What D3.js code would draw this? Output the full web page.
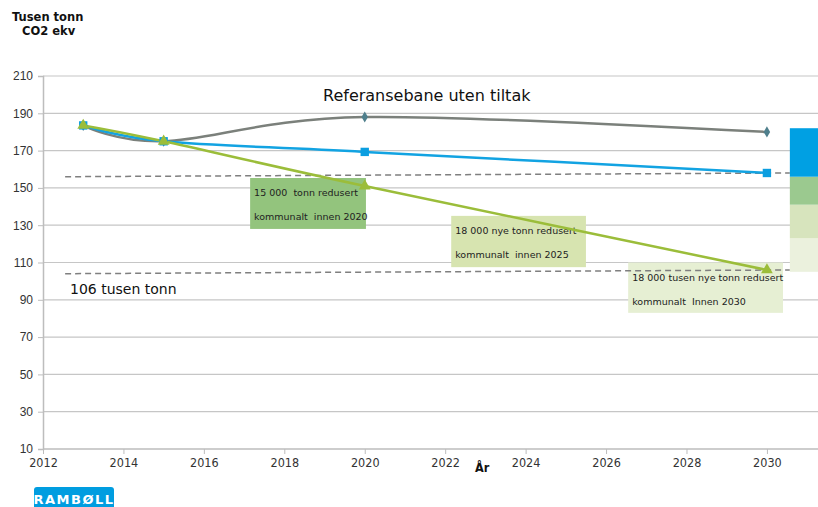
<!DOCTYPE html>
<html>
<head>
<meta charset="utf-8">
<script src="https://cdn.jsdelivr.net/npm/d3@7/dist/d3.min.js"></script>
<style>
  html, body { margin: 0; padding: 0; background: #fff; }
  svg { display: block; font-family: "DejaVu Sans", Verdana, sans-serif; }
</style>
</head>
<body>
<svg id="chart" width="818" height="507"></svg>
<script>
// Emission paths (thousand tonnes CO2 eq.)
const years = [2013, 2015, 2020, 2030];
const referanse = [183.5, 175, 188, 180];     // reference path without measures
const nasjonal = [183.5, 175, 169.3, 158];    // blue path
const kommunal = [183.5, 175, 151, 106];      // green path with municipal cuts

// Dashed target lines: [start year, end year] and [start value, end value]
const dashYears = [2012.55, 2030.57];
const dashUpper = [156, 158];
const dashLower = [104, 106];

// Stacked reduction bar at the right edge (bottom to top)
const stackSegments = [
  { label: "18 000 (2030)", value: 18 },
  { label: "18 000 (2025)", value: 18 },
  { label: "15 000 (2020)", value: 15 },
  { label: "rest", value: 26 }
];
const stackBase = 105;
const stackColors = ["#ebf1dd", "#d7e4bd", "#9bc98f", "#00a0e3"];

const yTicks = [10, 30, 50, 70, 90, 110, 130, 150, 170, 190, 210];
const xTicks = [2012, 2014, 2016, 2018, 2020, 2022, 2024, 2026, 2028, 2030];

// Reduction notes: box in data units, two text lines
const notes = [
  { x0: 2017.15, x1: 2020.03, y0: 155.3, y1: 128, fill: "#93c47d",
    lines: ["15 000  tonn redusert", "kommunalt  innen 2020"] },
  { x0: 2022.15, x1: 2025.5, y0: 135, y1: 107.5, fill: "#d7e4b0",
    lines: ["18 000 nye tonn redusert", "kommunalt  innen 2025"] },
  { x0: 2026.55, x1: 2030.4, y0: 110, y1: 83, fill: "#e6efd3",
    lines: ["18 000 tusen nye tonn redusert", "kommunalt  Innen 2030"] }
];

const svg = d3.select("#chart");
const x = d3.scaleLinear().domain([2012, 2031.27]).range([43, 818]);
const y = d3.scaleLinear().domain([10, 210]).range([449, 76]);

// Horizontal gridlines
svg.append("g").selectAll("line").data(yTicks.filter(v => v > 10)).join("line")
  .attr("x1", x(2012)).attr("x2", 818)
  .attr("y1", d => y(d)).attr("y2", d => y(d))
  .attr("stroke", "#c6c6c6").attr("stroke-width", 1.2);

// Axes
const yAxis = svg.append("g").attr("transform", `translate(${x(2012)},0)`)
  .call(d3.axisLeft(y).tickValues(yTicks).tickSize(5).tickPadding(5));
const xAxis = svg.append("g").attr("transform", `translate(0,${y(10)})`)
  .call(d3.axisBottom(x).tickValues(xTicks).tickFormat(d3.format("d")).tickSize(5).tickPadding(4));
[yAxis, xAxis].forEach(a => {
  a.select(".domain").attr("stroke", "#bdbdbd").attr("stroke-width", 1.5);
  a.selectAll(".tick line").attr("stroke", "#bdbdbd");
  a.selectAll("text").attr("fill", "#333").style("font-size", "12px");
});
xAxis.select(".domain").attr("d", `M${x(2012)},0H818`);
xAxis.selectAll("text").style("font-family", "'DejaVu Sans Condensed', 'DejaVu Sans', sans-serif")
  .style("font-size", "12.5px");

// Annotation boxes
const noteG = svg.append("g");
notes.forEach(n => {
  noteG.append("rect")
    .attr("x", x(n.x0)).attr("y", y(n.y0))
    .attr("width", x(n.x1) - x(n.x0)).attr("height", y(n.y1) - y(n.y0))
    .attr("fill", n.fill);
  n.lines.forEach((t, i) => {
    noteG.append("text")
      .attr("x", x(n.x0) + 4).attr("y", y(n.y0) + 18 + i * 24)
      .attr("font-size", 9.5).attr("fill", "#222")
      .style("white-space", "pre").text(t);
  });
});

// Dashed target lines
[dashUpper, dashLower].forEach(vals => {
  svg.append("line")
    .attr("x1", x(dashYears[0])).attr("x2", x(dashYears[1]))
    .attr("y1", y(vals[0])).attr("y2", y(vals[1]))
    .attr("stroke", "#7f7f7f").attr("stroke-width", 1.5)
    .attr("stroke-dasharray", "6,4");
});

// Stacked bar
let acc = stackBase;
const stackRows = stackSegments.map((s, i) => {
  const r = { lo: acc, hi: acc + s.value, color: stackColors[i] };
  acc += s.value;
  return r;
});
svg.append("g").selectAll("rect").data(stackRows).join("rect")
  .attr("x", x(2030.57)).attr("width", 818 - x(2030.57))
  .attr("y", d => y(d.hi)).attr("height", d => y(d.lo) - y(d.hi))
  .attr("fill", d => d.color);

// Lines
const line = d3.line().curve(d3.curveCatmullRom.alpha(0))
  .x((d, i) => x(years[i])).y(d => y(d));
const series = [
  { vals: referanse, color: "#7b807b", marker: "diamond", mcolor: "#4f7f8c" },
  { vals: nasjonal, color: "#12a3e2", marker: "square", mcolor: "#0b9ee0" },
  { vals: kommunal, color: "#9bbd3a", marker: "triangle", mcolor: "#9bbd3a" }
];
series.forEach(s => {
  svg.append("path").attr("d", line(s.vals))
    .attr("fill", "none").attr("stroke", s.color).attr("stroke-width", 2.5);
});
const symbols = { diamond: d3.symbolDiamond, square: d3.symbolSquare, triangle: d3.symbolTriangle };
const sizes = { diamond: 36, square: 70, triangle: 60 };
series.forEach(s => {
  svg.append("g").selectAll("path").data(s.vals).join("path")
    .attr("transform", (d, i) => `translate(${x(years[i])},${y(d)})`)
    .attr("d", d3.symbol().type(symbols[s.marker]).size(sizes[s.marker]))
    .attr("fill", s.mcolor);
});

// Labels
svg.append("text").attr("x", 323).attr("y", 101).attr("font-size", 16).attr("fill", "#111")
  .text("Referansebane uten tiltak");
svg.append("text").attr("x", 70).attr("y", 294).attr("font-size", 14).attr("fill", "#111")
  .text("106 tusen tonn");
svg.append("text").attr("x", 475).attr("y", 472).attr("font-size", 12.5).attr("font-weight", "bold")
  .style("font-family", "'DejaVu Sans Condensed', sans-serif").attr("fill", "#111").text("År");
svg.append("text").attr("x", 12).attr("y", 21).attr("font-size", 11.5).attr("font-weight", "bold")
  .attr("fill", "#111").text("Tusen tonn");
svg.append("text").attr("x", 22).attr("y", 35).attr("font-size", 11.5).attr("font-weight", "bold")
  .attr("fill", "#111").text("CO2 ekv");

// Logo
svg.append("rect").attr("x", 34).attr("y", 487).attr("width", 80).attr("height", 26)
  .attr("rx", 3).attr("fill", "#009de0");
svg.append("text").attr("x", 74).attr("y", 504).attr("text-anchor", "middle")
  .attr("font-size", 13).attr("font-weight", "bold").attr("fill", "#fff")
  .attr("letter-spacing", 1.5).text("RAMBØLL");
</script>
</body>
</html>
